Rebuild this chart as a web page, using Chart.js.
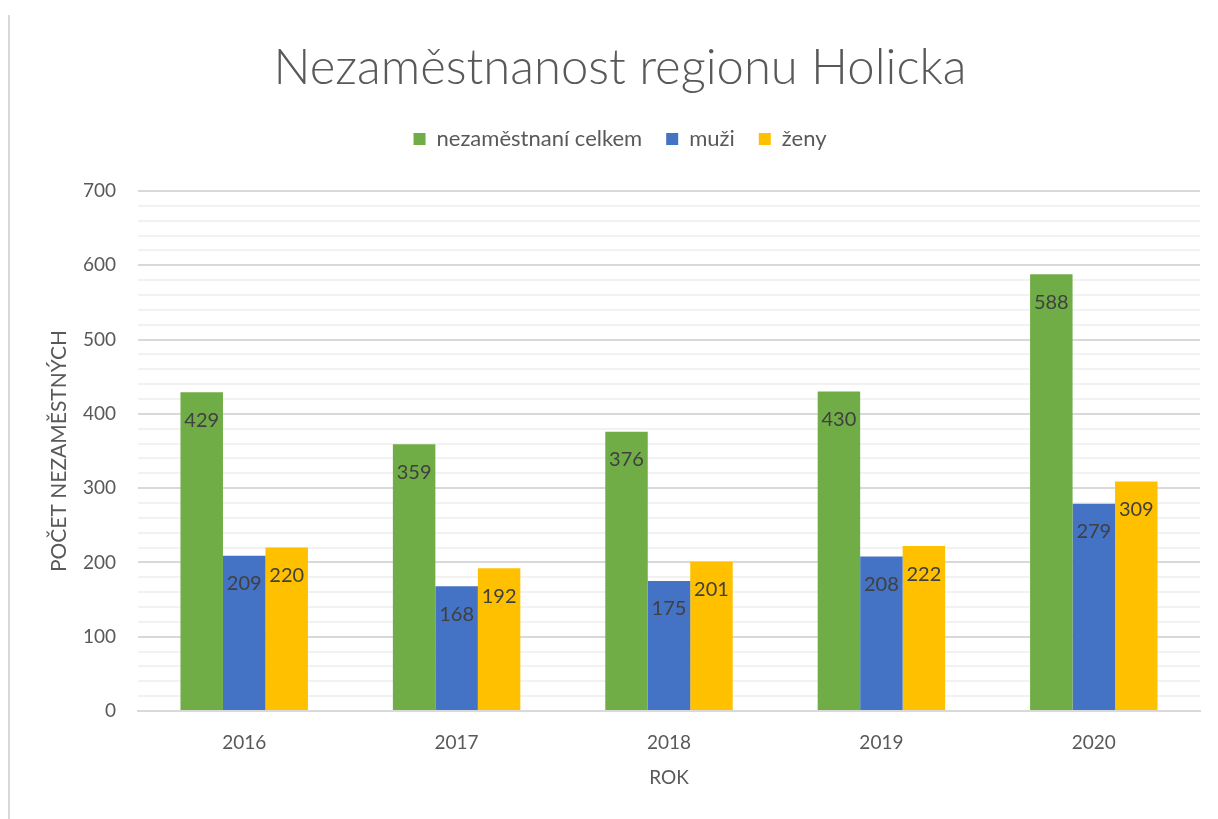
<!DOCTYPE html>
<html>
<head>
<meta charset="utf-8">
<script src="https://cdn.jsdelivr.net/npm/chart.js@4/dist/chart.umd.min.js"></script>
<style>
  html, body { margin: 0; padding: 0; background: #fff; }
  #wrap { position: relative; width: 1218px; height: 819px; }
  #edge { position: absolute; left: 8px; top: 15px; width: 2px; height: 804px; background: #d9d9d9; }
  canvas { position: absolute; left: 0; top: 0; }
</style>
</head>
<body>
<div id="wrap">
  <div id="edge"></div>
  <canvas id="c" width="1218" height="819"></canvas>
</div>
<script>
const categories = ['2016', '2017', '2018', '2019', '2020'];
const celkem = [429, 359, 376, 430, 588];
const muzi = [209, 168, 175, 208, 279];
const zeny = [220, 192, 201, 222, 309];
const seriesNames = ['nezaměstnaní celkem', 'muži', 'ženy'];
const yTicks = [0, 100, 200, 300, 400, 500, 600, 700];
const yTitle = 'POČET NEZAMĚSTNÝCH';

const FONT = 'Lato, "Open Sans", sans-serif';

const labelPlugin = {
  id: 'insideEndLabels',
  afterDatasetsDraw(chart) {
    const ctx = chart.ctx;
    ctx.save();
    ctx.font = '20px ' + FONT;
    ctx.fillStyle = '#404040';
    ctx.textAlign = 'center';
    ctx.textBaseline = 'middle';
    chart.data.datasets.forEach((ds, i) => {
      const meta = chart.getDatasetMeta(i);
      meta.data.forEach((bar, j) => {
        ctx.fillText(String(ds.data[j]), bar.x, bar.y + 28);
      });
    });
    ctx.restore();
  }
};

const yTitlePlugin = {
  id: 'yTitle',
  afterDraw(chart) {
    const ctx = chart.ctx;
    const a = chart.chartArea;
    ctx.save();
    ctx.translate(59, (a.top + a.bottom) / 2);
    ctx.rotate(-Math.PI / 2);
    ctx.font = '21px ' + FONT;
    ctx.fillStyle = '#595959';
    ctx.textAlign = 'center';
    ctx.textBaseline = 'middle';
    ctx.fillText(yTitle, 0, 0);
    ctx.restore();
  }
};

const legendSpace = {
  id: 'legendSpace',
  beforeInit(chart) {
    const fit = chart.legend.fit;
    chart.legend.fit = function () {
      fit.call(this);
      this.height += 31;
    };
  }
};

new Chart(document.getElementById('c'), {
  type: 'bar',
  data: {
    labels: categories,
    datasets: [
      { label: seriesNames[0], data: celkem, backgroundColor: '#70AD47' },
      { label: seriesNames[1], data: muzi, backgroundColor: '#4472C4' },
      { label: seriesNames[2], data: zeny, backgroundColor: '#FFC000' }
    ]
  },
  options: {
    responsive: false,
    animation: false,
    devicePixelRatio: 1,
    layout: { padding: { left: 22, right: 0, top: 0, bottom: 0 } },
    datasets: { bar: { categoryPercentage: 0.6, barPercentage: 1.0 } },
    plugins: {
      title: {
        display: true,
        text: 'Nezaměstnanost regionu Holicka',
        color: '#595959',
        font: { family: FONT, size: 49, weight: '300', lineHeight: 1 },
        padding: { top: 44, bottom: 11 }
      },
      legend: {
        display: true,
        labels: {
          color: '#595959',
          font: { family: FONT, size: 22 },
          boxWidth: 12,
          boxHeight: 12,
          padding: 24
        }
      },
      tooltip: { enabled: false }
    },
    scales: {
      x: {
        grid: { display: false, drawTicks: false },
        border: { display: true, color: '#d9d9d9', width: 2 },
        ticks: { color: '#595959', font: { family: FONT, size: 19 }, padding: 20 },
        title: { display: true, text: 'ROK', color: '#595959', font: { family: FONT, size: 19 }, padding: { top: 4, bottom: 30 } },
        afterFit(s) { s.height = 108; }
      },
      y: {
        min: 0,
        max: 700,
        ticks: {
          stepSize: 20,
          autoSkip: false,
          color: '#595959',
          font: { family: FONT, size: 19 },
          padding: 22,
          callback: (v) => (yTicks.includes(v) ? String(v) : '')
        },
        grid: {
          drawTicks: false,
          color: (c) => (c.tick && c.tick.value % 100 === 0 ? '#d9d9d9' : '#f2f2f2'),
          lineWidth: 2
        },
        border: { display: false },
        title: { display: false },
        afterFit(s) { s.width = 116; }
      },
      yr: {
        type: 'linear',
        position: 'right',
        display: true,
        grid: { display: false, drawTicks: false },
        border: { display: false },
        ticks: { display: false },
        afterFit(s) { s.width = 18; }
      }
    }
  },
  plugins: [labelPlugin, yTitlePlugin, legendSpace]
});
</script>
</body>
</html>
